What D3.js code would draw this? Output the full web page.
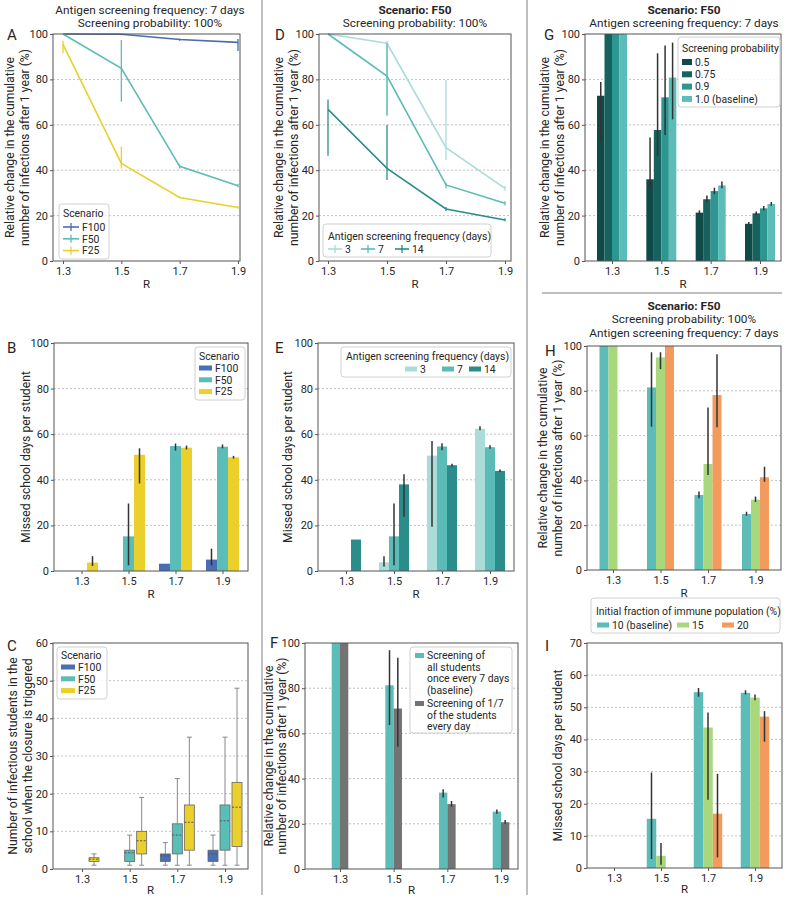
<!DOCTYPE html>
<html>
<head>
<meta charset="utf-8">
<script src="https://cdn.jsdelivr.net/npm/d3@7"></script>
<style>
	body { margin: 0; background: #fff; }
	text { font-family: Roboto, "Noto Sans", sans-serif; fill: #262626; }
</style>
</head>
<body>
<div id="chart-area"></div>
<script>
const R = ["1.3", "1.5", "1.7", "1.9"]

// A - relative change in infections by scenario
const scenarios = ["F100", "F50", "F25"]
const aMean = [[100, 99.9, 97.6, 96.3], [100, 84.9, 41.7, 33.2], [95.4, 43.0, 28.0, 23.6]]
const aLo = [[100, 99.5, 97.0, 92.5], [100, 70.2, 40.8, 32.5], [91.5, 40.8, 27.5, 23.0]]
const aHi = [[100, 100, 98.0, 97.8], [100, 97.4, 42.5, 34.0], [97.0, 50.4, 28.5, 24.2]]

// B - missed school days by scenario
const bMean = [[0, 0, 3.2, 5.0], [0, 15.2, 54.8, 54.5], [3.7, 51.0, 54.1, 49.9]]
const bLo = [[0, 0, 3.2, 2.5], [0, 2.5, 52.8, 53.8], [2.2, 38.4, 53.3, 49.3]]
const bHi = [[0, 0, 3.2, 9.8], [0, 29.6, 55.9, 55.5], [6.5, 53.8, 55.0, 50.5]]

// C - infectious students at closure: [min, q1, median, q3, max]
const cF100 = [null, null, [1, 2, 3.5, 4, 7], [1, 2, 4, 5, 9]]
const cF50 = [null, [1, 2, 4.3, 5, 9], [1, 4, 9, 12, 24], [1, 5, 12.8, 17, 35]]
const cF25 = [[1, 2, 2.6, 3, 4], [1, 4, 7.5, 10, 19], [1, 5, 12.4, 17, 35], [1, 6, 16.4, 23, 48]]

// D - screening frequency
const freqs = ["3", "7", "14"]
const dMean = [[100, 95.9, 49.9, 32.0], [100, 81.5, 33.5, 25.4], [66.8, 40.8, 22.9, 18.1]]
const dLo = [[100, 64.0, 44.5, 31.0], [100, 64.0, 32.0, 24.5], [46.4, 35.7, 22.0, 17.5]]
const dHi = [[100, 97.0, 79.7, 33.0], [100, 96.0, 34.5, 26.3], [71.2, 60.0, 23.8, 18.8]]

// E - missed school days by screening frequency
const eMean = [[0, 3.8, 50.6, 62.4], [0, 15.2, 54.6, 54.3], [13.8, 38.0, 46.4, 43.9]]
const eLo = [[0, 2.0, 19.4, 61.7], [0, 2.5, 53.0, 53.6], [13.8, 23.8, 45.8, 43.4]]
const eHi = [[0, 6.5, 57.0, 63.5], [0, 29.6, 56.0, 55.1], [13.8, 42.4, 47.0, 44.5]]

// F - screening strategy
const strategies = [
	["Screening of", "all students", "once every 7 days", "(baseline)"],
	["Screening of  1/7", "of the students", "every day"]
]
const fMean = [[100, 81.3, 33.8, 25.4], [100, 71.0, 28.7, 20.7]]
const fLo = [[100, 63.7, 31.6, 24.5], [100, 54.1, 27.6, 20.0]]
const fHi = [[100, 96.8, 35.3, 26.3], [100, 93.5, 30.1, 21.7]]

// G - screening probability
const probs = ["0.5", "0.75", "0.9", "1.0 (baseline)"]
const gMean = [[72.8, 36.0, 21.3, 16.4], [100, 57.7, 27.2, 21.0], [100, 72.1, 30.8, 23.2], [100, 80.8, 33.3, 25.1]]
const gLo = [[52.6, 32.0, 20.3, 15.8], [100, 46.3, 26.0, 20.3], [100, 55.5, 29.5, 22.3], [100, 62.4, 32.0, 24.3]]
const gHi = [[78.9, 54.4, 22.3, 17.2], [100, 91.5, 28.8, 21.8], [100, 94.9, 32.3, 24.2], [100, 96.2, 35.0, 26.0]]

// H - initial immune fraction
const immune = ["10 (baseline)", "15", "20"]
const hMean = [[100, 81.5, 33.5, 25.0], [100, 94.9, 47.3, 31.4], [null, 100, 78.1, 41.4]]
const hLo = [[100, 64.0, 32.0, 24.3], [100, 89.7, 42.4, 30.4], [null, 100, 63.7, 39.4]]
const hHi = [[100, 97.2, 35.0, 26.0], [100, 97.2, 72.6, 32.8], [null, 100, 96.3, 46.1]]

// I - missed school days by immune fraction
const iMean = [[0, 15.3, 54.7, 54.5], [0, 3.8, 43.7, 53.0], [0, 0, 16.9, 47.1]]
const iLo = [[0, 2.8, 53.3, 54.0], [0, 1.0, 21.2, 52.2], [0, 0, 3.3, 39.3]]
const iHi = [[0, 29.7, 56.0, 55.3], [0, 7.8, 48.4, 54.0], [0, 0, 29.3, 48.8]]

const scenarioColors = ["#4a6db3", "#5bbdb8", "#ebd02b"]
const freqColors = ["#abdcd8", "#5bbcb7", "#2a8d8b"]
const probColors = ["#0e4a48", "#17625f", "#2c9691", "#5bbcb8"]
const immuneColors = ["#5bbcb8", "#a8d77c", "#f29b5d"]
const strategyColors = ["#5bbcb8", "#737373"]

const INF_LABEL = ["Relative change in the cumulative", "number of infections after 1 year (%)"]
const MISSED_LABEL = ["Missed school days per student"]
const TICK_FS = "11px"
const TITLE_FS = "11.8px"
const LABEL_FS = "12.2px"
const LEG_FS = "10.4px"

const svg = d3.select("#chart-area").append("svg")
	.attr("width", 788)
	.attr("height", 900)

// separators
svg.append("line").attr("x1", 262).attr("x2", 262).attr("y1", 0).attr("y2", 895)
	.attr("stroke", "#aaa").attr("stroke-width", 1.5)
svg.append("line").attr("x1", 527).attr("x2", 527).attr("y1", 0).attr("y2", 895)
	.attr("stroke", "#aaa").attr("stroke-width", 1.5)
svg.append("line").attr("x1", 542).attr("x2", 782).attr("y1", 293).attr("y2", 293)
	.attr("stroke", "#aaa").attr("stroke-width", 1.5)

function makePanel(p) {
	const y = d3.scaleLinear().domain([0, p.yMax]).range([p.y1, p.y0])
	const x = d3.scaleLinear().domain(p.xDomain || [0, 3]).range([p.x0 + p.padL, p.x1 - p.padR])
	const xTicks = p.xDomain ? R.map(Number) : [0, 1, 2, 3]
	const g = svg.append("g")
	const ticks = d3.range(0, p.yMax + 1e-6, p.yStep)

	g.append("g").selectAll("line").data(ticks.slice(1, -1)).join("line")
		.attr("x1", p.x0).attr("x2", p.x1)
		.attr("y1", d => y(d)).attr("y2", d => y(d))
		.attr("stroke", "#b3b3b3").attr("stroke-width", 0.8).attr("stroke-dasharray", "2,2")

	const yAxis = g.append("g").attr("transform", `translate(${p.x0},0)`)
		.call(d3.axisLeft(y).tickValues(ticks).tickSize(3).tickPadding(2))
	const xAxis = g.append("g").attr("transform", `translate(0,${p.y1})`)
		.call(d3.axisBottom(x).tickValues(xTicks).tickFormat((d, i) => R[i]).tickSize(3).tickPadding(3))
	;[yAxis, xAxis].forEach(a => {
		a.select(".domain").remove()
		a.selectAll("line").attr("stroke", "#555")
		a.selectAll("text").attr("font-size", TICK_FS).attr("fill", "#262626")
			.style("font-family", "Roboto, sans-serif")
	})

	const marks = g.append("g")

	g.append("rect")
		.attr("x", p.x0).attr("y", p.y0)
		.attr("width", p.x1 - p.x0).attr("height", p.y1 - p.y0)
		.attr("fill", "none").attr("stroke", "#555").attr("stroke-width", 1)

	g.append("text")
		.attr("x", (p.x0 + p.x1) / 2).attr("y", p.y1 + (p.rY || 27))
		.attr("text-anchor", "middle").attr("font-size", "11.5px")
		.text("R")

	// y label, one or two lines
	p.ylabel.forEach((t, k) => {
		g.append("text")
			.attr("transform", `translate(${p.ylabelX[k]},${(p.y0 + p.y1) / 2}) rotate(-90)`)
			.attr("text-anchor", "middle").attr("dominant-baseline", "central")
			.attr("font-size", LABEL_FS)
			.text(t)
	})

	g.append("text")
		.attr("x", p.letter[0]).attr("y", p.letter[1])
		.attr("font-size", "15px")
		.text(p.name)

	return { g: marks, x, y }
}

function titles(cx, lines) {
	lines.forEach(l => {
		svg.append("text")
			.attr("x", cx).attr("y", l.y)
			.attr("text-anchor", "middle").attr("font-size", TITLE_FS)
			.attr("font-weight", l.bold ? "bold" : "normal")
			.text(l.t)
	})
}

function errorBars(pn, data, color, width) {
	pn.g.selectAll(null).data(data.filter(d => d.hi - d.lo > 0.3)).join("line")
		.attr("x1", d => d.cx).attr("x2", d => d.cx)
		.attr("y1", d => pn.y(d.lo)).attr("y2", d => pn.y(d.hi))
		.attr("stroke", color).attr("stroke-width", width)
}

function bars(pn, means, los, his, colors, barW) {
	const n = means.length
	const rows = means.map((series, j) => {
		const off = (j - (n - 1) / 2) * barW
		return series.map((v, i) => ({ v, cx: pn.x(i) + off, lo: los[j][i], hi: his[j][i] }))
			.filter(d => d.v !== null)
	})
	rows.forEach((data, j) => {
		pn.g.selectAll(null).data(data.filter(d => d.v > 0)).join("rect")
			.attr("x", d => d.cx - barW / 2)
			.attr("width", barW)
			.attr("y", d => pn.y(d.v))
			.attr("height", d => pn.y(0) - pn.y(d.v))
			.attr("fill", colors[j])
	})
	rows.forEach(data => errorBars(pn, data, "#333", 1.5))
}

function lines(pn, means, los, his, colors) {
	const line = d3.line().x(d => pn.x(d.r)).y(d => pn.y(d.v))
	means.forEach((series, j) => {
		const data = series.map((v, i) => ({ v, r: +R[i], cx: pn.x(+R[i]), lo: los[j][i], hi: his[j][i] }))
		errorBars(pn, data, colors[j], 1.3)
		pn.g.append("path").datum(data)
			.attr("d", line)
			.attr("fill", "none").attr("stroke", colors[j]).attr("stroke-width", 1.6)
	})
}

function boxes(pn, stats, colors, slot, boxW) {
	const n = stats.length
	stats.forEach((series, j) => {
		const off = (j - (n - 1) / 2) * slot
		const data = series.map((s, i) => ({ s, cx: pn.x(i) + off })).filter(d => d.s !== null)
		const bg = pn.g.selectAll(null).data(data).join("g")
		bg.append("line")
			.attr("x1", d => d.cx).attr("x2", d => d.cx)
			.attr("y1", d => pn.y(d.s[0])).attr("y2", d => pn.y(d.s[1]))
			.attr("stroke", "#888").attr("stroke-width", 1)
		bg.append("line")
			.attr("x1", d => d.cx).attr("x2", d => d.cx)
			.attr("y1", d => pn.y(d.s[3])).attr("y2", d => pn.y(d.s[4]))
			.attr("stroke", "#888").attr("stroke-width", 1)
		;[0, 4].forEach(k => {
			bg.append("line")
				.attr("x1", d => d.cx - boxW / 4).attr("x2", d => d.cx + boxW / 4)
				.attr("y1", d => pn.y(d.s[k])).attr("y2", d => pn.y(d.s[k]))
				.attr("stroke", "#888").attr("stroke-width", 1)
		})
		bg.append("rect")
			.attr("x", d => d.cx - boxW / 2).attr("width", boxW)
			.attr("y", d => pn.y(d.s[3]))
			.attr("height", d => pn.y(d.s[1]) - pn.y(d.s[3]))
			.attr("fill", colors[j]).attr("stroke", "#666").attr("stroke-width", 0.8)
		bg.append("line")
			.attr("x1", d => d.cx - boxW / 2).attr("x2", d => d.cx + boxW / 2)
			.attr("y1", d => pn.y(d.s[2])).attr("y2", d => pn.y(d.s[2]))
			.attr("stroke", "#555").attr("stroke-width", 1).attr("stroke-dasharray", "2,1.5")
	})
}

function legendBox(x, y, w, h) {
	svg.append("rect")
		.attr("x", x).attr("y", y).attr("width", w).attr("height", h)
		.attr("rx", 3)
		.attr("fill", "#fff").attr("fill-opacity", 0.85)
		.attr("stroke", "#d0d0d0").attr("stroke-width", 1)
}

function legendText(x, y, t) {
	svg.append("text").attr("x", x).attr("y", y).attr("font-size", LEG_FS).text(t)
}

// vertical legend with patches or line markers
function vLegend(o) {
	legendBox(o.x, o.y, o.w, o.h)
	legendText(o.x + 4, o.titleY, o.title)
	o.labels.forEach((lab, k) => {
		const cy = o.firstY + k * o.rowH
		if (o.kind === "line") {
			svg.append("line").attr("x1", o.x + 4).attr("x2", o.x + 20).attr("y1", cy).attr("y2", cy)
				.attr("stroke", o.colors[k]).attr("stroke-width", 1.6)
			svg.append("line").attr("x1", o.x + 12).attr("x2", o.x + 12).attr("y1", cy - 4).attr("y2", cy + 4)
				.attr("stroke", o.colors[k]).attr("stroke-width", 1.3)
		} else {
			svg.append("rect").attr("x", o.x + 4).attr("y", cy - o.patchH / 2)
				.attr("width", o.patchW).attr("height", o.patchH).attr("fill", o.colors[k])
		}
		legendText(o.x + 4 + o.patchW + 3, cy + 3.8, lab)
	})
}

// horizontal legend with explicit item offsets
function hLegend(o) {
	legendBox(o.x, o.y, o.w, o.h)
	legendText(o.x + 5, o.titleY, o.title)
	o.labels.forEach((lab, k) => {
		const px = o.x + o.itemX[k]
		if (o.kind === "line") {
			svg.append("line").attr("x1", px).attr("x2", px + 14).attr("y1", o.rowY).attr("y2", o.rowY)
				.attr("stroke", o.colors[k]).attr("stroke-width", 1.6)
			svg.append("line").attr("x1", px + 7).attr("x2", px + 7).attr("y1", o.rowY - 4).attr("y2", o.rowY + 4)
				.attr("stroke", o.colors[k]).attr("stroke-width", 1.3)
			legendText(px + 17, o.rowY + 3.8, lab)
		} else {
			svg.append("rect").attr("x", px).attr("y", o.rowY - 2.5)
				.attr("width", 12).attr("height", 5).attr("fill", o.colors[k])
			legendText(px + 15, o.rowY + 3.8, lab)
		}
	})
}

// ---------- Column 1 ----------
titles(150, [{ t: "Antigen screening frequency: 7 days", y: 14 }, { t: "Screening probability: 100%", y: 27 }])

const pA = makePanel({ name: "A", letter: [7, 40], x0: 53, x1: 240, y0: 34, y1: 261, yMax: 100, yStep: 20,
	xDomain: [1.3, 1.9], padL: 10, padR: 2, ylabel: INF_LABEL, ylabelX: [10, 25] })
lines(pA, aMean, aLo, aHi, scenarioColors)
vLegend({ kind: "line", x: 59, y: 204, w: 50, h: 55, title: "Scenario", titleY: 217,
	labels: scenarios, colors: scenarioColors, firstY: 227, rowH: 11.8, patchW: 16, patchH: 0 })

const pB = makePanel({ name: "B", letter: [7, 353], x0: 54, x1: 248, y0: 343, y1: 571, yMax: 100, yStep: 20,
	padL: 27.5, padR: 25.5, ylabel: MISSED_LABEL, ylabelX: [26] })
bars(pB, bMean, bLo, bHi, scenarioColors, 11)
vLegend({ x: 195, y: 347, w: 50, h: 53, title: "Scenario", titleY: 360,
	labels: scenarios, colors: scenarioColors, firstY: 368, rowH: 11.8, patchW: 13, patchH: 5 })

const pC = makePanel({ name: "C", letter: [7, 651], x0: 53, x1: 248, y0: 643, y1: 869, yMax: 60, yStep: 10,
	padL: 29, padR: 23, rY: 25, ylabel: ["Number of infectious students in the", "school when the closure is triggered"], ylabelX: [13, 28] })
boxes(pC, [cF100, cF50, cF25], scenarioColors, 12, 10)
vLegend({ x: 57, y: 647, w: 50, h: 52, title: "Scenario", titleY: 659,
	labels: scenarios, colors: scenarioColors, firstY: 667, rowH: 11.8, patchW: 14, patchH: 5 })

// ---------- Column 2 ----------
titles(415, [{ t: "Scenario: F50", y: 14, bold: true }, { t: "Screening probability: 100%", y: 27 }])

const pD = makePanel({ name: "D", letter: [275, 40], x0: 319, x1: 511, y0: 34, y1: 261, yMax: 100, yStep: 20,
	xDomain: [1.3, 1.9], padL: 9, padR: 6, ylabel: INF_LABEL, ylabelX: [279, 294] })
lines(pD, dMean, dLo, dHi, freqColors)
hLegend({ kind: "line", x: 323, y: 224, w: 168, h: 33, title: "Antigen screening frequency (days)", titleY: 240,
	labels: freqs, colors: freqColors, rowY: 249, itemX: [5, 38, 72] })

const pE = makePanel({ name: "E", letter: [275, 353], x0: 318, x1: 514, y0: 343, y1: 571, yMax: 100, yStep: 20,
	padL: 28, padR: 24, ylabel: MISSED_LABEL, ylabelX: [288] })
bars(pE, eMean, eLo, eHi, freqColors, 10)
hLegend({ x: 341, y: 347, w: 170, h: 30, title: "Antigen screening frequency (days)", titleY: 360,
	labels: freqs, colors: freqColors, rowY: 369, itemX: [64, 101, 128] })

const pF = makePanel({ name: "F", letter: [270, 648], x0: 305, x1: 518, y0: 643, y1: 869, yMax: 100, yStep: 20,
	padL: 35, padR: 17, rY: 25, ylabel: INF_LABEL, ylabelX: [269, 282] })
bars(pF, fMean, fLo, fHi, strategyColors, 8.3)
legendBox(410, 647, 102, 86)
strategies.forEach((ls, k) => {
	const top = k === 0 ? 659 : 707
	svg.append("rect").attr("x", 415).attr("y", top - 6).attr("width", 9).attr("height", 5).attr("fill", strategyColors[k])
	ls.forEach((t, m) => legendText(427, top + m * 11.6, t))
})

// ---------- Column 3 ----------
titles(684, [{ t: "Scenario: F50", y: 14, bold: true }, { t: "Antigen screening frequency: 7 days", y: 27 }])

const pG = makePanel({ name: "G", letter: [544, 40], x0: 585, x1: 781, y0: 34, y1: 261, yMax: 100, yStep: 20,
	padL: 27, padR: 21, ylabel: INF_LABEL, ylabelX: [545, 560] })
bars(pG, gMean, gLo, gHi, probColors, 7.5)
vLegend({ x: 678, y: 37, w: 102, h: 70, title: "Screening probability", titleY: 52,
	labels: probs, colors: probColors, firstY: 62, rowH: 12.3, patchW: 10, patchH: 6 })

titles(684, [{ t: "Scenario: F50", y: 310, bold: true }, { t: "Screening probability: 100%", y: 323 },
	{ t: "Antigen screening frequency: 7 days", y: 337 }])

const pH = makePanel({ name: "H", letter: [545, 356], x0: 587, x1: 781, y0: 346, y1: 570, yMax: 100, yStep: 20,
	padL: 26, padR: 25.5, ylabel: INF_LABEL, ylabelX: [543, 558] })
bars(pH, hMean, hLo, hHi, immuneColors, 9)

const pI = makePanel({ name: "I", letter: [545, 651], x0: 587, x1: 782, y0: 643, y1: 868, yMax: 70, yStep: 10,
	padL: 27, padR: 27, rY: 25, ylabel: MISSED_LABEL, ylabelX: [558] })
bars(pI, iMean, iLo, iHi, immuneColors, 9.5)
hLegend({ x: 591, y: 598, w: 189, h: 35, title: "Initial fraction of immune population (%)", titleY: 615,
	labels: immune, colors: immuneColors, rowY: 625, itemX: [6, 86, 131] })
</script>
</body>
</html>
